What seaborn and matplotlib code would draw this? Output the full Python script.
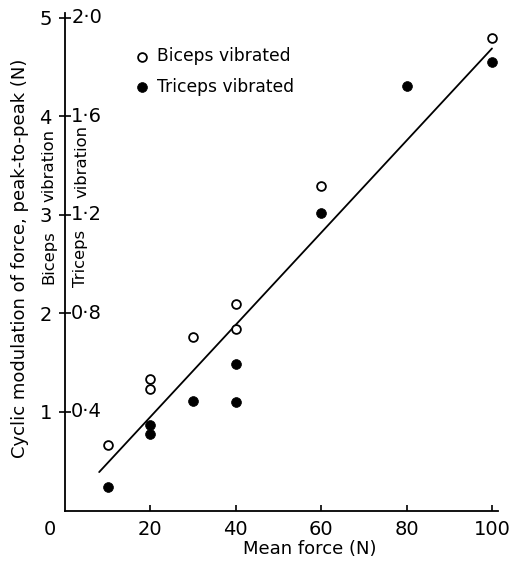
#--------------------------------------------
# Cyclic modulation of force vs mean force,
# biceps and triceps vibration, with fit line
#--------------------------------------------

import numpy as np
import pandas as pd
import matplotlib
matplotlib.use("Agg")
import matplotlib.pyplot as plt
import seaborn as sns

#--------------------DATA-----------------------

# Biceps vibrated (N, left scale)
biceps_x = [10, 20, 20, 30, 40, 40, 60, 100]
biceps_y = [0.66, 1.23, 1.33, 1.76, 1.84, 2.10, 3.29, 4.80]

# Triceps vibrated (N, inner scale)
triceps_x = [10, 20, 20, 30, 40, 40, 60, 80, 100]
triceps_y = [0.096, 0.31, 0.346, 0.444, 0.44, 0.596, 1.208, 1.724, 1.82]

# inner scale -> outer scale (2.0 N triceps sits at 5 N biceps)
scale_ratio = 2.5

# Regression line end points (outer scale)
fit_x = [8, 100]
fit_y = [0.39, 4.69]

x_ticks = [20, 40, 60, 80, 100]
biceps_ticks = [1, 2, 3, 4, 5]
triceps_labels = ["0·4", "0·8", "1·2", "1·6", "2·0"]

#--------------------PLOT-----------------------

sns.set_theme(style="ticks")
plt.rcParams['font.family'] = ['DejaVu Sans']
plt.rcParams['text.color'] = 'black'
plt.rcParams['axes.labelcolor'] = 'black'

fig = plt.figure(figsize=(5.15, 5.62), dpi=100)
ax = fig.add_axes([65 / 515, 51.5 / 562, 433.4 / 515, 497.5 / 562])

bic = pd.DataFrame({'x': biceps_x, 'y': biceps_y})
tri = pd.DataFrame({'x': triceps_x, 'y': np.array(triceps_y) * scale_ratio})

sns.lineplot(x=fit_x, y=fit_y, color='black', linewidth=1.3, ax=ax)
sns.scatterplot(data=bic, x='x', y='y', marker='o', s=40, facecolor='white',
                edgecolor='black', linewidth=1.3, label='Biceps vibrated', ax=ax, zorder=3)
sns.scatterplot(data=tri, x='x', y='y', marker='o', s=50, color='black',
                edgecolor='black', linewidth=0.5, label='Triceps vibrated', ax=ax, zorder=3)

ax.set_xlim(0, 101.5)
ax.set_ylim(0, 5.05)
sns.despine(ax=ax)
for side in ['left', 'bottom']:
    ax.spines[side].set_linewidth(1.3)
    ax.spines[side].set_color('black')

ax.set_xticks(x_ticks)
ax.set_xticklabels([str(v) for v in x_ticks])
ax.tick_params(axis='x', direction='in', length=4, width=1.2, pad=7,
               labelsize=14, colors='black')
ax.set_yticks(biceps_ticks)
ax.set_yticklabels([str(v) for v in biceps_ticks])
ax.tick_params(axis='y', direction='inout', length=9, width=1.2, pad=5,
               labelsize=14, colors='black')
ax.set_xlabel('')
ax.set_ylabel('')

# Inner (triceps) scale labels
for v, lab in zip(biceps_ticks, triceps_labels):
    ax.annotate(lab, xy=(0, v), xytext=(4.5, 0), textcoords='offset points',
                ha='left', va='center', fontsize=14, color='black')

# Shared origin label
ax.annotate('0', xy=(0, 0), xytext=(-11, -14), textcoords='offset points',
            ha='center', va='center', fontsize=14, color='black')

leg = ax.legend(loc='upper left', bbox_to_anchor=(0.166, 0.931), frameon=False,
                borderaxespad=0, borderpad=0, handlelength=0.6, handletextpad=0.55,
                labelspacing=0.72, fontsize=12.3)
for t in leg.get_texts():
    t.set_color('black')

# Axis titles
fig.text(20 / 515, 1 - 258 / 562, 'Cyclic modulation of force, peak-to-peak (N)',
         rotation=90, ha='center', va='center', fontsize=13, color='black')
fig.text(310 / 515, 1 - 549 / 562, 'Mean force (N)', ha='center', va='center',
         fontsize=13, color='black')
fig.text(49 / 515, 1 - 257 / 562, 'Biceps', rotation=90, ha='center', va='center',
         fontsize=11.8, color='black')
fig.text(49 / 515, 1 - 166 / 562, 'vibration', rotation=90, ha='center', va='center',
         fontsize=11.8, color='black')
fig.text(81 / 515, 1 - 258 / 562, 'Triceps', rotation=90, ha='center', va='center',
         fontsize=11.8, color='black')
fig.text(82 / 515, 1 - 161 / 562, 'vibration', rotation=90, ha='center', va='center',
         fontsize=11.8, color='black')

plt.savefig('out.png', dpi=100)
